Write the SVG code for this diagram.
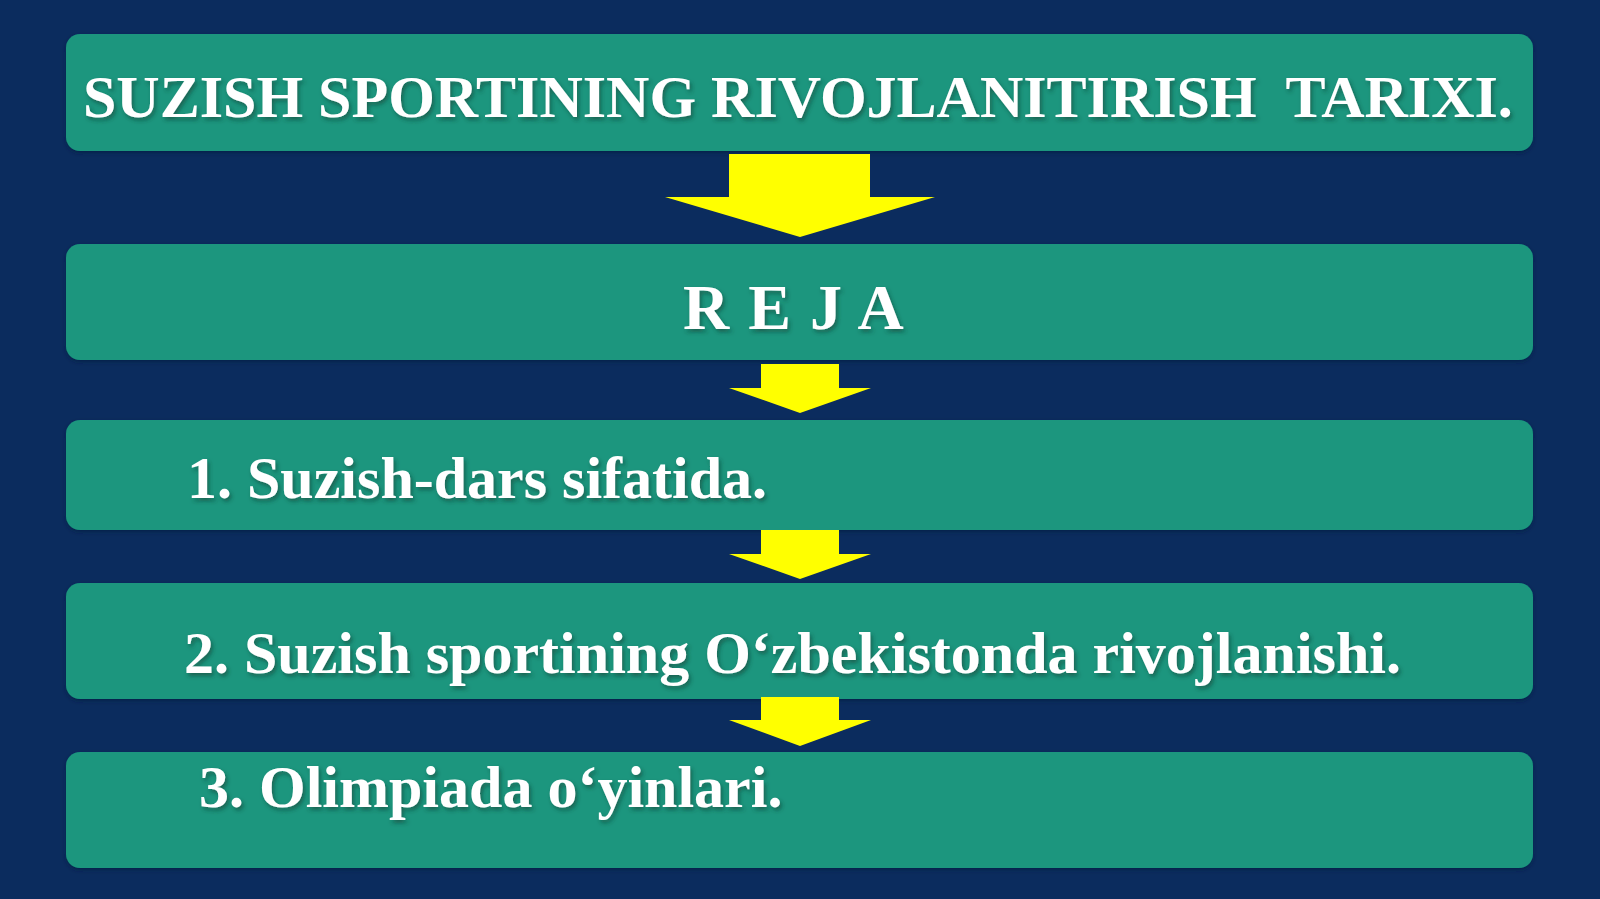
<svg xmlns="http://www.w3.org/2000/svg" width="1600" height="899" viewBox="0 0 1600 899">
<defs>
<filter id="sh" x="-5%" y="-20%" width="110%" height="140%">
<feDropShadow dx="2" dy="3" stdDeviation="2" flood-color="#0a3a30" flood-opacity="0.55"/>
</filter>
<filter id="bsh" x="-2%" y="-10%" width="104%" height="125%">
<feDropShadow dx="0" dy="2" stdDeviation="2" flood-color="#051a3a" flood-opacity="0.6"/>
</filter>
</defs>
<style>
.box{fill:#1a967e;}
.t{font-family:"Liberation Serif","Times New Roman",serif;font-weight:bold;fill:#ffffff;font-size:60px;}
.arr{fill:#ffff00;}
</style>
<rect x="0" y="0" width="1600" height="899" fill="#0b2c5e"/>
<g id="node-title">
<rect class="box" x="66" y="34" width="1467" height="117" rx="14" filter="url(#bsh)"/>
<text class="t" x="83" y="117" filter="url(#sh)" xml:space="preserve">SUZISH SPORTINING RIVOJLANITIRISH  TARIXI.</text>
</g>
<g id="node-reja">
<rect class="box" x="66" y="244" width="1467" height="116" rx="14" filter="url(#bsh)"/>
<text class="t" x="683" y="329" style="font-size:64px;letter-spacing:1.5px" filter="url(#sh)">R E J A</text>
</g>
<g id="node-1">
<rect class="box" x="66" y="420" width="1467" height="110" rx="14" filter="url(#bsh)"/>
<text class="t" x="187" y="498" filter="url(#sh)">1. Suzish-dars sifatida.</text>
</g>
<g id="node-2">
<rect class="box" x="66" y="583" width="1467" height="116" rx="14" filter="url(#bsh)"/>
<text class="t" x="184" y="673" filter="url(#sh)">2. Suzish sportining O‘zbekistonda rivojlanishi.</text>
</g>
<g id="node-3">
<rect class="box" x="66" y="752" width="1467" height="116" rx="14" filter="url(#bsh)"/>
<text class="t" x="199" y="807" filter="url(#sh)">3. Olimpiada o‘yinlari.</text>
</g>
<g id="connectors">
<polygon class="arr" points="729,154 870,154 870,197 935,197 800,237 665,197 729,197"/>
<polygon class="arr" points="761,364 839,364 839,388 871,388 800,413 729,388 761,388"/>
<polygon class="arr" points="761,530 839,530 839,554 871,554 800,579 729,554 761,554"/>
<polygon class="arr" points="761,697 839,697 839,720 871,720 800,746 729,720 761,720"/>
</g>
</svg>
